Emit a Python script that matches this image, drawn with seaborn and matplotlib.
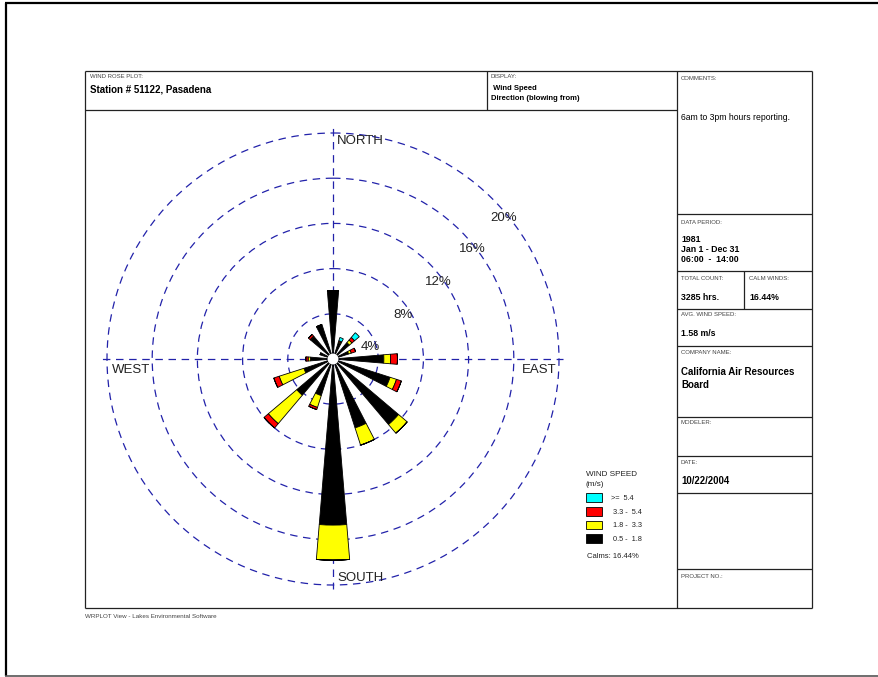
import numpy as np
import matplotlib
matplotlib.use("Agg")
import matplotlib.pyplot as plt
import seaborn as sns

# wind rose data (% of hours), 16 directions, blowing from
directions = ["N", "NNE", "NE", "ENE", "E", "ESE", "SE", "SSE",
              "S", "SSW", "SW", "WSW", "W", "WNW", "NW", "NNW"]
dir_degrees = [0, 22.5, 45, 67.5, 90, 112.5, 135, 157.5,
               180, 202.5, 225, 247.5, 270, 292.5, 315, 337.5]
spd_05_18 = [6.05, 1.5, 1.9, 1.45, 4.5, 5.3, 7.6, 6.4, 14.7, 3.4, 4.2, 2.7, 2.0, 1.2, 2.6, 3.2]
spd_18_33 = [0.0, 0.1, 0.3, 0.25, 0.6, 0.6, 1.0, 1.6, 3.1, 1.1, 3.3, 2.3, 0.2, 0.0, 0.05, 0.0]
spd_33_54 = [0.0, 0.1, 0.3, 0.4, 0.6, 0.45, 0.0, 0.0, 0.0, 0.2, 0.5, 0.5, 0.2, 0.0, 0.2, 0.0]
spd_54_up = [0.0, 0.3, 0.55, 0.0, 0.0, 0.0, 0.0, 0.0, 0.0, 0.0, 0.0, 0.0, 0.0, 0.0, 0.0, 0.0]
speed_series = [spd_05_18, spd_18_33, spd_33_54, spd_54_up]
speed_labels = [" 0.5 -  1.8", " 1.8 -  3.3", " 3.3 -  5.4", ">=  5.4"]
speed_colors = ["#000000", "#ffff00", "#ff0000", "#00ffff"]

ring_values = [4, 8, 12, 16, 20]
ring_labels = ["4%", "8%", "12%", "16%", "20%"]
compass_labels = ["NORTH", "EAST", "SOUTH", "WEST"]
calm_text = "Calms: 16.44%"

sns.set_style("white")
plt.rcParams["font.family"] = ["Liberation Sans", "DejaVu Sans"]

W, H = 879, 677
fig = plt.figure(figsize=(W / 100, H / 100), dpi=100)

# page layer in pixel coordinates
bg = fig.add_axes([0, 0, 1, 1])
bg.set_xlim(0, W)
bg.set_ylim(H, 0)
bg.axis("off")

line_c = "#222222"
def hline(y, x0, x1, lw=0.9, c=line_c):
    bg.plot([x0, x1], [y, y], color=c, lw=lw, solid_capstyle="butt")
def vline(x, y0, y1, lw=0.9, c=line_c):
    bg.plot([x, x], [y0, y1], color=c, lw=lw, solid_capstyle="butt")

# outer page frame
hline(3, 5, 880, lw=1.6, c="black")
vline(6, 3, 676, lw=1.6, c="black")
hline(675.5, 5, 880, lw=1.2, c="#555555")

# main box
hline(71, 85, 812)
hline(608, 85, 812)
vline(85, 71, 608)
vline(812, 71, 608)
hline(110, 85, 677)
vline(487, 71, 110)
vline(677, 71, 608)
for y in [214, 271, 309, 346, 417, 456, 493, 569]:
    hline(y, 677, 812)
vline(744, 271, 309)

lab_c = "#444444"
def small(x, y, s):
    bg.text(x, y, s, fontsize=4.3, color=lab_c, va="center", ha="left")
def value(x, y, s, size=6.3, bold=True):
    bg.text(x, y, s, fontsize=size, fontweight="bold" if bold else "normal",
            color="black", va="center", ha="left")

small(90, 77, "WIND ROSE PLOT:")
value(90, 90, "Station # 51122, Pasadena", size=7)
small(491, 77, "DISPLAY:")
value(491, 89, " Wind Speed", size=5.5)
value(491, 98, "Direction (blowing from)", size=5.5)

small(681, 79, "COMMENTS:")
value(681, 117, "6am to 3pm hours reporting.", size=6.2, bold=False)
small(681, 222, "DATA PERIOD:")
value(681, 240, "1981")
value(681, 250, "Jan 1 - Dec 31")
value(681, 259, "06:00  -  14:00")
small(681, 279, "TOTAL COUNT:")
value(681, 297, "3285 hrs.")
small(749, 279, "CALM WINDS:")
value(749, 297, "16.44%")
small(681, 315, "AVG. WIND SPEED:")
value(681, 333, "1.58 m/s")
small(681, 353, "COMPANY NAME:")
value(681, 372, "California Air Resources", size=7)
value(681, 385, "Board", size=7)
small(681, 423, "MODELER:")
small(681, 463, "DATE:")
value(681, 481, "10/22/2004", size=6.9)
small(681, 577, "PROJECT NO.:")
bg.text(85, 616, "WRPLOT View - Lakes Environmental Software",
        fontsize=4.5, color=lab_c, va="center", ha="left")

# polar rose: centre (333, 359) px, 20% ring = 226 px
cx, cy, r20 = 333, 359, 226
rmax = 20.4
rpx = r20 * rmax / 20
ax = fig.add_axes([(cx - rpx) / W, (H - cy - rpx) / H, 2 * rpx / W, 2 * rpx / H],
                  projection="polar")
ax.patch.set_alpha(0)
ax.set_theta_zero_location("N")
ax.set_theta_direction(-1)
ax.set_ylim(0, rmax)
ax.spines["polar"].set_visible(False)
grid_c = "#2222aa"
ax.set_rgrids(ring_values, labels=[""] * len(ring_values))
ax.set_thetagrids([0, 90, 180, 270], labels=[""] * 4)
ax.grid(True, color=grid_c, linestyle=(0, (6, 4.5)), linewidth=0.9)
ax.set_axisbelow(True)
ax.tick_params(length=0)

theta = np.deg2rad(dir_degrees)
width = np.deg2rad(9.5)
bottom = np.zeros(len(directions))
bars = []
for vals, col, lab in zip(speed_series, speed_colors, speed_labels):
    vals = np.array(vals)
    b = ax.bar(theta, vals, width=width, bottom=bottom, color=col,
               edgecolor="black", linewidth=0.6, label=lab, zorder=3)
    bars.append(b)
    bottom = bottom + vals

# calm circle in the middle
tt = np.linspace(0, 2 * np.pi, 100)
ax.fill(tt, np.full_like(tt, 0.42), color="white", zorder=4)

# ring labels
ring_angles = [72, 57.8, 53.7, 51.6, 50.5]
ring_radii = [3.44, 7.32, 11.52, 15.69, 19.6]
for lab, a, r in zip(ring_labels, ring_angles, ring_radii):
    ax.text(np.deg2rad(a), r, lab, fontsize=9.5, color="#222222",
            ha="center", va="center", zorder=5)

# compass labels
ax.annotate(compass_labels[0], xy=(0, 19.3), xytext=(3, 0), textcoords="offset points",
            ha="left", va="center", fontsize=9.5, color="#222222")
ax.annotate(compass_labels[1], xy=(np.pi / 2, 20), xytext=(-1.5, -8), textcoords="offset points",
            ha="right", va="center", fontsize=9.5, color="#222222")
ax.annotate(compass_labels[2], xy=(np.pi, 19.4), xytext=(3, 0), textcoords="offset points",
            ha="left", va="center", fontsize=9.5, color="#222222")
ax.annotate(compass_labels[3], xy=(3 * np.pi / 2, 20), xytext=(3.6, -8), textcoords="offset points",
            ha="left", va="center", fontsize=9.5, color="#222222")

# legend
leg = bg.legend(handles=bars[::-1], labels=speed_labels[::-1],
                loc="upper left", bbox_to_anchor=(586, 471), bbox_transform=bg.transData,
                frameon=False, fontsize=5.3, title="WIND SPEED\n(m/s)", title_fontsize=5.9,
                alignment="left", handlelength=2.2, handleheight=1.45,
                labelspacing=0.68, handletextpad=1.2, borderpad=0, borderaxespad=0)
for t in leg.get_texts():
    t.set_color("#222222")
leg.get_title().set_color("#222222")
leg.get_title().set_linespacing(1.6)
bg.text(587, 557, calm_text, fontsize=5.5, color="#222222", va="center", ha="left")

fig.savefig("out.png", dpi=100)
